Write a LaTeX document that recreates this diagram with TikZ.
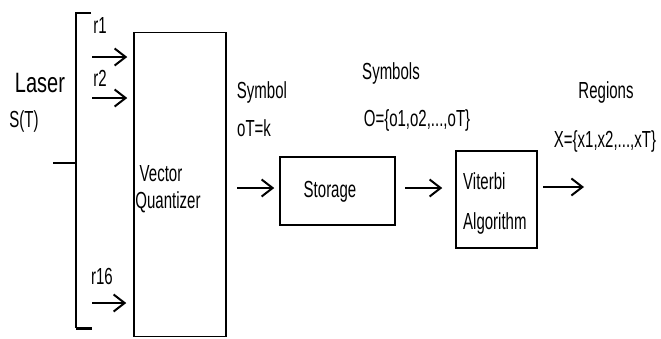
\documentclass[tikz,border=0pt]{standalone}
\usepackage{fontspec}
\usepackage{graphicx}
\setmainfont{Liberation Sans}
\usetikzlibrary{arrows.meta}
\newcommand{\tx}[1]{\scalebox{1}[1.55]{#1}}
\begin{document}
\begin{tikzpicture}[x=1pt,y=-1pt,
  lbl/.style={inner sep=0pt,font=\fontsize{15}{18}\selectfont},
  blk/.style={draw,line width=1.5pt,inner sep=0pt},
  arr/.style={line width=2.2pt,-{Straight Barb[length=11pt,width=17pt,line width=2pt]}},
  brk/.style={line width=1.6pt}]
\useasboundingbox (0,0) rectangle (661,338);
% boxes
\node[blk,minimum width=92pt,minimum height=304pt] (vq) at (180,184.5) {};
\node[blk,minimum width=115pt,minimum height=68pt] (st) at (337.5,191) {};
\node[blk,minimum width=81pt,minimum height=97pt] (vit) at (496.5,199.5) {};
% bracket
\coordinate (bt) at (76,13);
\coordinate (bb) at (76,328);
\coordinate (btr) at (91,13);
\coordinate (bbr) at (92,328);
\coordinate (bm) at (76,163);
\coordinate (bl) at (53,163);
\draw[brk] (btr) -- (bt) -- (bb);
\draw[line width=3pt] (bb) -- (bbr);
\draw[brk] (bl) -- (bm);
% input arrows
\coordinate (a1) at (92,57);
\coordinate (a2) at (92,98);
\coordinate (a16) at (92,303);
\draw[arr,shorten >=6pt] (a1) -- (a1 -| vq.west);
\draw[arr,shorten >=6pt] (a2) -- (a2 -| vq.west);
\draw[arr,shorten >=7pt] (a16) -- (a16 -| vq.west);
% chain arrows
\coordinate (o1) at (237,188);
\coordinate (o2) at (405,188);
\coordinate (o3) at (543,187);
\coordinate (o3e) at (584,187);
\draw[arr,shorten >=5pt] (o1) -- (o1 -| st.west);
\draw[arr,shorten >=13pt] (o2) -- (o2 -| vit.west);
\draw[arr] (o3) -- (o3e);
% labels
\node[lbl] (r1) at (100,25) {\tx{r1}};
\node[lbl] (r2) at (100,78) {\tx{r2}};
\node[lbl] (r16) at (102,276) {\tx{r16}};
\node[inner sep=0pt,font=\fontsize{20}{24}\selectfont] (laser) at (40,83) {\scalebox{1}[1.4]{Laser}};
\node[lbl] (s) at (24,121) {\tx{S(T)}};
\node[lbl] (vec) at (161,174) {\tx{Vector}};
\node[lbl] (qua) at (168,202) {\tx{Quantizer}};
\node[lbl] (sym) at (262,92) {\tx{Symbol}};
\node[lbl,anchor=west] (ot) at (237,128) {\tx{oT=k}};
\node[lbl] (syms) at (391,73) {\tx{Symbols}};
\node[lbl] (oset) at (417,120) {\tx{O=\{o1,o2,...,oT\}}};
\node[lbl] (stt) at (330,192) {\tx{Storage}};
\node[lbl,anchor=west] (vt) at (463,181) {\tx{Viterbi}};
\node[lbl,anchor=west] (alg) at (463,223) {\tx{Algorithm}};
\node[lbl] (reg) at (606,92) {\tx{Regions}};
\node[lbl] (xset) at (605,141) {\tx{X=\{x1,x2,...,xT\}}};
\end{tikzpicture}
\end{document}
